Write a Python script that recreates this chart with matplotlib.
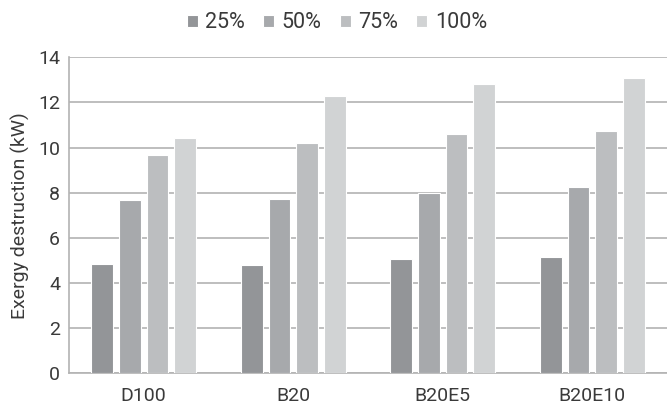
import matplotlib
matplotlib.use("Agg")
import matplotlib.pyplot as plt
import numpy as np

plt.rcParams['font.family'] = ['Roboto', 'DejaVu Sans']

fuels = ["D100", "B20", "B20E5", "B20E10"]
loads = ["25%", "50%", "75%", "100%"]
load_25 = [4.84, 4.78, 5.06, 5.15]
load_50 = [7.67, 7.73, 8.01, 8.27]
load_75 = [9.66, 10.19, 10.62, 10.73]
load_100 = [10.44, 12.27, 12.83, 13.08]
series = [load_25, load_50, load_75, load_100]
colors = ["#939598", "#a7a9ac", "#bcbec0", "#d1d3d4"]
text_color = "#3a3a3a"

fig = plt.figure(figsize=(6.67, 4.09), dpi=100)
ax = fig.add_axes([69 / 667, 1 - 373.3 / 409, (667 - 69) / 667, (373.3 - 57.3) / 409])

x = np.arange(len(fuels))
step = 0.185
width = 0.145
for i, (vals, lab, col) in enumerate(zip(series, loads, colors)):
    ax.bar(x + (i - 1.5) * step, vals, width, color=col, label=lab,
           edgecolor="white", linewidth=0.8, zorder=3)

ax.set_xlim(-0.5, len(fuels) - 0.5)
ax.set_ylim(0, 14)
ax.set_yticks(np.arange(0, 15, 2))
ax.set_xticks(x)
ax.set_xticklabels(fuels)
ax.yaxis.grid(True, color="#b3b3b3", linewidth=1.2, zorder=0)
ax.set_axisbelow(True)
for s in ["top", "right"]:
    ax.spines[s].set_visible(False)
for s in ["left", "bottom"]:
    ax.spines[s].set_color("#b3b3b3")
    ax.spines[s].set_linewidth(1.2)
ax.tick_params(axis="both", length=0, labelsize=14, colors=text_color)
ax.tick_params(axis="y", pad=6.5)
ax.tick_params(axis="x", pad=10)
ax.set_ylabel("Exergy destruction (kW)", fontsize=14, color=text_color, labelpad=6)

fig.legend(loc="center", bbox_to_anchor=(337 / 667, 1 - 23 / 409), ncol=4,
           frameon=False, fontsize=15.5, handlelength=0.5, handleheight=0.5,
           handletextpad=0.35, columnspacing=0.85, labelcolor=text_color)

fig.savefig("out.png", dpi=100)
